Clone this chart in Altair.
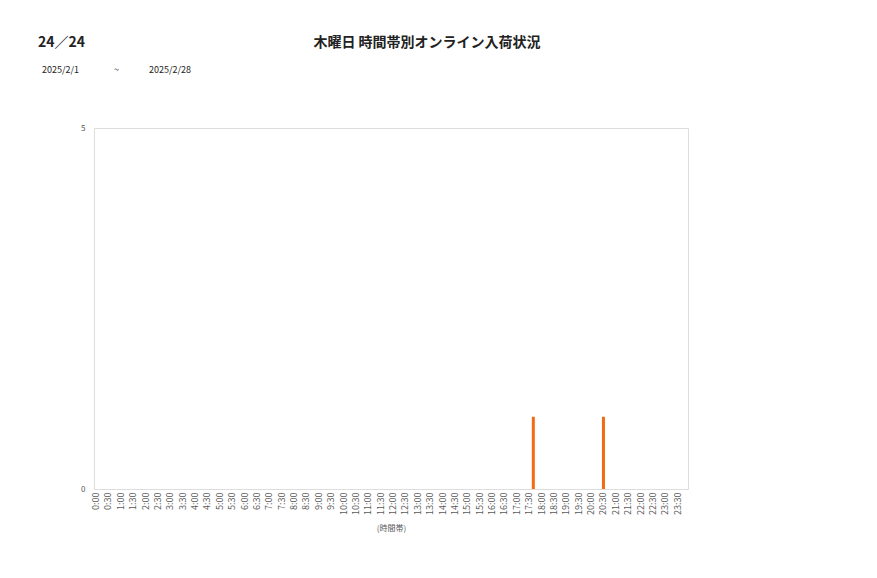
import altair as alt
import pandas as pd

# 10-minute slots for the whole day
hours = list(range(24))
minutes = [0, 10, 20, 30, 40, 50]
slots = [f"{h}:{m:02d}" for h in hours for m in minutes]
tick_labels = [f"{h}:{m:02d}" for h in hours for m in (0, 30)]

# non-zero counts (all other slots are 0)
nonzero = {"17:40": 1, "20:30": 1}
counts = [nonzero.get(s, 0) for s in slots]

df = pd.DataFrame({"slot": slots, "count": counts})

FONT = "Noto Sans CJK JP"
W, H = 594, 361

bars = alt.Chart(df).mark_bar(color="#f26b10", size=3).encode(
    x=alt.X("slot:O", sort=slots,
            scale=alt.Scale(paddingInner=0, paddingOuter=0),
            axis=alt.Axis(values=tick_labels, labelAngle=-90, labelFontSize=9,
                          labelColor="#595959", labelFont=FONT, ticks=False,
                          domain=False, labelPadding=3,
                          title="(時間帯)", titleFontSize=8, titleFont=FONT,
                          titleColor="#595959", titleFontWeight="normal",
                          titlePadding=10)),
    y=alt.Y("count:Q", scale=alt.Scale(domain=[0, 5], nice=False),
            axis=alt.Axis(values=[0, 5], grid=False, ticks=False, domain=False,
                          labelFontSize=8, labelColor="#595959", labelFont=FONT,
                          labelPadding=9, title=None)),
)

texts = [
    ("24／24", -56, -85, 14, "left", "bold"),
    ("木曜日 時間帯別オンライン入荷状況", 333, -85, 14, "center", "bold"),
    ("2025/2/1", -52, -58, 9, "left", "normal"),
    ("~", 20, -58, 9, "left", "normal"),
    ("2025/2/28", 55, -58, 9, "left", "normal"),
]
layers = [bars]
for t, x, y, fs, al, fw in texts:
    layers.append(
        alt.Chart(pd.DataFrame({"t": [t]})).mark_text(
            fontSize=fs, align=al, baseline="middle", font=FONT,
            color="#222222", fontWeight=fw
        ).encode(text="t:N", x=alt.value(x), y=alt.value(y))
    )

chart = alt.layer(*layers).properties(
    width=W, height=H,
    autosize=alt.AutoSizeParams(type="none"),
    padding={"left": 86, "top": 120, "right": 181, "bottom": 81},
).configure_view(stroke="#d9d9d9", strokeWidth=1).configure(background="white")

chart.save("out.html", embed_options={"renderer": "svg", "actions": False})
